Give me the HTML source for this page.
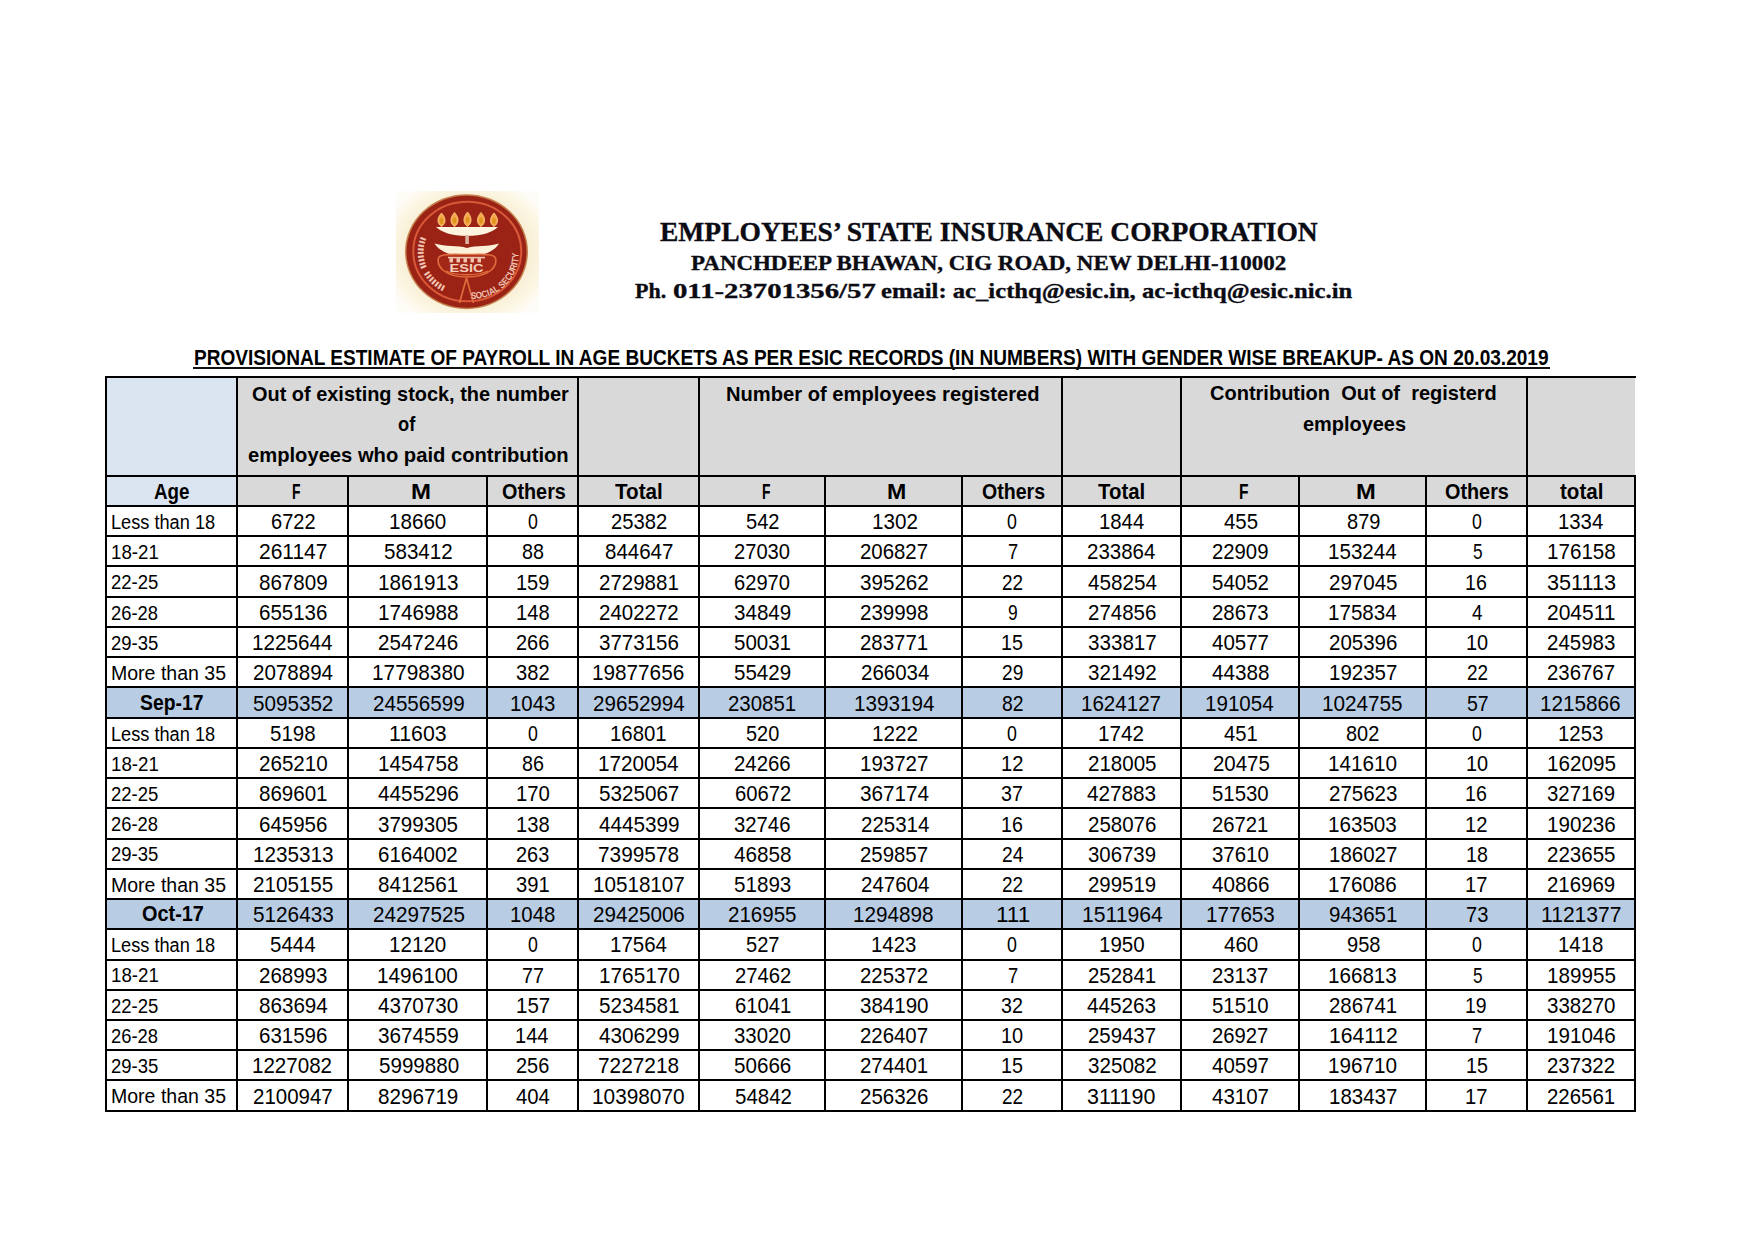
<!DOCTYPE html>
<html><head><meta charset="utf-8"><style>
html,body{margin:0;padding:0;background:#fff;}
body{width:1755px;height:1240px;position:relative;overflow:hidden;}
body>div{position:absolute;}
.t{white-space:pre;transform-origin:0 0;font-kerning:none;}
</style></head><body>
<svg style="position:absolute;left:385px;top:180px" width="165" height="145" viewBox="385 180 165 145">
<defs>
<radialGradient id="bg" cx="50%" cy="50%" r="62%"><stop offset="0.55" stop-color="#f6e9c8"/><stop offset="0.85" stop-color="#fbf5e2"/><stop offset="1" stop-color="#fefcf6"/></radialGradient>
<path id="arcR" d="M 471,299 A 47,44 0 0 0 515,238"/>
<path id="arcL" d="M 421,236 A 47,44 0 0 0 459,296"/>
</defs>
<rect x="396" y="191" width="143" height="122" rx="3" fill="url(#bg)"/>
<ellipse cx="466.5" cy="251.7" rx="61.5" ry="57.5" fill="#c4814e"/>
<ellipse cx="466.5" cy="251.7" rx="60" ry="56" fill="#9a2315"/>
<ellipse cx="467.3" cy="251.5" rx="54" ry="49.8" fill="none" stroke="#d9583a" stroke-width="2"/>
<g fill="#f5a94c" stroke="#fbc27c" stroke-width="0.9">
<path d="M441.5,213 C446,218 446.5,223 441.5,226.5 C436.5,223 437,218 441.5,213Z"/>
<path d="M454.5,212.5 C459,217.5 459.5,223 454.5,226.5 C449.5,223 450,217.5 454.5,212.5Z"/>
<path d="M467.5,212 C472,217 472.5,223 467.5,226.5 C462.5,223 463,217 467.5,212Z"/>
<path d="M481,212.5 C485.5,217.5 486,223 481,226.5 C476,223 476.5,217.5 481,212.5Z"/>
<path d="M494,213 C498.5,218 499,223 494,226.5 C489,223 489.5,218 494,213Z"/>
</g>
<g fill="#e0951e">
<ellipse cx="441.5" cy="221" rx="1.8" ry="3.2"/><ellipse cx="454.5" cy="220.5" rx="1.8" ry="3.2"/><ellipse cx="467.5" cy="220" rx="1.8" ry="3.2"/><ellipse cx="481" cy="220.5" rx="1.8" ry="3.2"/><ellipse cx="494" cy="221" rx="1.8" ry="3.2"/>
</g>
<!-- upper bowl -->
<path d="M436,227 L498,227 C493,232 482,236 467,236 C452,236 441,232 436,227Z" fill="#fcf4de"/>
<!-- center column -->
<rect x="465.3" y="235" width="3.6" height="9" fill="#dcb4a2"/>
<!-- lower crescent -->
<path d="M434.5,243.5 C446,247 457,245 467,248 C477,245 488,247 499,243.5 C494,252 482,256.5 467,256.5 C452,256.5 440,252 434.5,243.5Z" fill="#fcf2da"/>
<!-- ESIC oval -->
<path d="M438.5,258 C440.5,253.5 452,254.5 467,254.5 C482,254.5 493.5,253.5 495.5,258 C497.5,266 490,277 467,277 C444,277 436.5,266 438.5,258Z" fill="#a42818" stroke="#df6c3c" stroke-width="1.6"/>
<path d="M446,271 C455,276 479,276 488,271" fill="none" stroke="#df6c3c" stroke-width="1.3"/>
<g fill="#f2c5b0">
<rect x="448" y="256.8" width="37" height="1.6"/>
<rect x="449.5" y="258.2" width="3.5" height="4.2"/><rect x="456.5" y="258.2" width="3.5" height="4.2"/><rect x="463.5" y="258.2" width="3.5" height="4.2"/><rect x="470.5" y="258.2" width="3.5" height="4.2"/><rect x="477.5" y="258.2" width="3.5" height="4.2"/>
</g>
<text x="466.5" y="271.5" font-family="Liberation Sans" font-weight="bold" font-size="10.5" text-anchor="middle" fill="#f5d0bd" textLength="34" lengthAdjust="spacingAndGlyphs">ESIC</text>
<!-- stand -->
<path d="M466.5,278 L459.5,303 M466.5,278 L473.5,303" stroke="#df6c3c" stroke-width="1.7" fill="none"/>
<!-- side texts -->
<text font-family="Liberation Sans" font-weight="bold" font-size="9.5" fill="#f2c3b2"><textPath href="#arcR" textLength="74" lengthAdjust="spacingAndGlyphs">SOCIAL SECURITY</textPath></text>
<text font-family="Liberation Sans" font-weight="bold" font-size="8.5" fill="#f2c3b2"><textPath href="#arcL" textLength="66" lengthAdjust="spacingAndGlyphs">IIIIIIIII  IIIIIII</textPath></text>
</svg>

<div style="left:106.30px;top:377.30px;width:130.50px;height:128.70px;background:#dbe5f1"></div><div style="left:236.80px;top:377.30px;width:1397.80px;height:128.70px;background:#d9d9d9"></div><div style="left:106.30px;top:687.41px;width:1528.30px;height:30.24px;background:#b8cce4"></div><div style="left:106.30px;top:899.06px;width:1528.30px;height:30.23px;background:#b8cce4"></div><div style="left:105.30px;top:376.30px;width:1530.30px;height:2.00px;background:#000"></div><div style="left:105.30px;top:474.80px;width:1530.30px;height:2.00px;background:#000"></div><div style="left:105.30px;top:505.00px;width:1530.30px;height:2.00px;background:#000"></div><div style="left:105.30px;top:535.24px;width:1530.30px;height:2.00px;background:#000"></div><div style="left:105.30px;top:565.47px;width:1530.30px;height:2.00px;background:#000"></div><div style="left:105.30px;top:595.71px;width:1530.30px;height:2.00px;background:#000"></div><div style="left:105.30px;top:625.94px;width:1530.30px;height:2.00px;background:#000"></div><div style="left:105.30px;top:656.17px;width:1530.30px;height:2.00px;background:#000"></div><div style="left:105.30px;top:686.41px;width:1530.30px;height:2.00px;background:#000"></div><div style="left:105.30px;top:716.64px;width:1530.30px;height:2.00px;background:#000"></div><div style="left:105.30px;top:746.88px;width:1530.30px;height:2.00px;background:#000"></div><div style="left:105.30px;top:777.12px;width:1530.30px;height:2.00px;background:#000"></div><div style="left:105.30px;top:807.35px;width:1530.30px;height:2.00px;background:#000"></div><div style="left:105.30px;top:837.59px;width:1530.30px;height:2.00px;background:#000"></div><div style="left:105.30px;top:867.82px;width:1530.30px;height:2.00px;background:#000"></div><div style="left:105.30px;top:898.06px;width:1530.30px;height:2.00px;background:#000"></div><div style="left:105.30px;top:928.29px;width:1530.30px;height:2.00px;background:#000"></div><div style="left:105.30px;top:958.52px;width:1530.30px;height:2.00px;background:#000"></div><div style="left:105.30px;top:988.76px;width:1530.30px;height:2.00px;background:#000"></div><div style="left:105.30px;top:1019.00px;width:1530.30px;height:2.00px;background:#000"></div><div style="left:105.30px;top:1049.23px;width:1530.30px;height:2.00px;background:#000"></div><div style="left:105.30px;top:1079.47px;width:1530.30px;height:2.00px;background:#000"></div><div style="left:105.30px;top:1109.70px;width:1530.30px;height:2.00px;background:#000"></div><div style="left:105.30px;top:376.30px;width:2.00px;height:100.50px;background:#000"></div><div style="left:235.80px;top:376.30px;width:2.00px;height:100.50px;background:#000"></div><div style="left:576.80px;top:376.30px;width:2.00px;height:100.50px;background:#000"></div><div style="left:697.90px;top:376.30px;width:2.00px;height:100.50px;background:#000"></div><div style="left:1060.50px;top:376.30px;width:2.00px;height:100.50px;background:#000"></div><div style="left:1179.90px;top:376.30px;width:2.00px;height:100.50px;background:#000"></div><div style="left:1525.90px;top:376.30px;width:2.00px;height:100.50px;background:#000"></div><div style="left:105.30px;top:474.80px;width:2.00px;height:636.90px;background:#000"></div><div style="left:235.80px;top:474.80px;width:2.00px;height:636.90px;background:#000"></div><div style="left:346.90px;top:474.80px;width:2.00px;height:636.90px;background:#000"></div><div style="left:486.20px;top:474.80px;width:2.00px;height:636.90px;background:#000"></div><div style="left:576.80px;top:474.80px;width:2.00px;height:636.90px;background:#000"></div><div style="left:697.90px;top:474.80px;width:2.00px;height:636.90px;background:#000"></div><div style="left:824.10px;top:474.80px;width:2.00px;height:636.90px;background:#000"></div><div style="left:961.40px;top:474.80px;width:2.00px;height:636.90px;background:#000"></div><div style="left:1060.50px;top:474.80px;width:2.00px;height:636.90px;background:#000"></div><div style="left:1179.90px;top:474.80px;width:2.00px;height:636.90px;background:#000"></div><div style="left:1297.70px;top:474.80px;width:2.00px;height:636.90px;background:#000"></div><div style="left:1425.10px;top:474.80px;width:2.00px;height:636.90px;background:#000"></div><div style="left:1525.90px;top:474.80px;width:2.00px;height:636.90px;background:#000"></div><div style="left:1633.60px;top:474.80px;width:2.00px;height:636.90px;background:#000"></div><div class="t" style="left:110.71px;top:512.89px;font:normal 19.5px/19.5px 'Liberation Sans',sans-serif;transform:scaleX(0.9322);color:#000;">Less than 18</div><div class="t" style="left:270.54px;top:512.20px;font:normal 21.5px/21.5px 'Liberation Sans',sans-serif;transform:scaleX(0.9304);color:#000;">6722</div><div class="t" style="left:389.06px;top:512.20px;font:normal 21.5px/21.5px 'Liberation Sans',sans-serif;transform:scaleX(0.9589);color:#000;">18660</div><div class="t" style="left:528.46px;top:512.20px;font:normal 21.5px/21.5px 'Liberation Sans',sans-serif;transform:scaleX(0.8238);color:#000;">0</div><div class="t" style="left:611.16px;top:512.20px;font:normal 21.5px/21.5px 'Liberation Sans',sans-serif;transform:scaleX(0.9412);color:#000;">25382</div><div class="t" style="left:746.26px;top:512.20px;font:normal 21.5px/21.5px 'Liberation Sans',sans-serif;transform:scaleX(0.9332);color:#000;">542</div><div class="t" style="left:871.69px;top:512.20px;font:normal 21.5px/21.5px 'Liberation Sans',sans-serif;transform:scaleX(0.9595);color:#000;">1302</div><div class="t" style="left:1007.35px;top:512.20px;font:normal 21.5px/21.5px 'Liberation Sans',sans-serif;transform:scaleX(0.8238);color:#000;">0</div><div class="t" style="left:1098.61px;top:512.20px;font:normal 21.5px/21.5px 'Liberation Sans',sans-serif;transform:scaleX(0.9456);color:#000;">1844</div><div class="t" style="left:1223.77px;top:512.20px;font:normal 21.5px/21.5px 'Liberation Sans',sans-serif;transform:scaleX(0.9502);color:#000;">455</div><div class="t" style="left:1346.85px;top:512.20px;font:normal 21.5px/21.5px 'Liberation Sans',sans-serif;transform:scaleX(0.9324);color:#000;">879</div><div class="t" style="left:1472.46px;top:512.20px;font:normal 21.5px/21.5px 'Liberation Sans',sans-serif;transform:scaleX(0.8238);color:#000;">0</div><div class="t" style="left:1557.83px;top:512.20px;font:normal 21.5px/21.5px 'Liberation Sans',sans-serif;transform:scaleX(0.9456);color:#000;">1334</div><div class="t" style="left:110.77px;top:543.13px;font:normal 19.5px/19.5px 'Liberation Sans',sans-serif;transform:scaleX(0.9579);color:#000;">18-21</div><div class="t" style="left:258.80px;top:542.44px;font:normal 21.5px/21.5px 'Liberation Sans',sans-serif;transform:scaleX(0.9757);color:#000;">261147</div><div class="t" style="left:384.38px;top:542.44px;font:normal 21.5px/21.5px 'Liberation Sans',sans-serif;transform:scaleX(0.9568);color:#000;">583412</div><div class="t" style="left:522.40px;top:542.44px;font:normal 21.5px/21.5px 'Liberation Sans',sans-serif;transform:scaleX(0.9183);color:#000;">88</div><div class="t" style="left:604.66px;top:542.44px;font:normal 21.5px/21.5px 'Liberation Sans',sans-serif;transform:scaleX(0.9538);color:#000;">844647</div><div class="t" style="left:734.29px;top:542.44px;font:normal 21.5px/21.5px 'Liberation Sans',sans-serif;transform:scaleX(0.9363);color:#000;">27030</div><div class="t" style="left:860.39px;top:542.44px;font:normal 21.5px/21.5px 'Liberation Sans',sans-serif;transform:scaleX(0.9478);color:#000;">206827</div><div class="t" style="left:1008.14px;top:542.44px;font:normal 21.5px/21.5px 'Liberation Sans',sans-serif;transform:scaleX(0.8502);color:#000;">7</div><div class="t" style="left:1087.33px;top:542.44px;font:normal 21.5px/21.5px 'Liberation Sans',sans-serif;transform:scaleX(0.9523);color:#000;">233864</div><div class="t" style="left:1211.83px;top:542.44px;font:normal 21.5px/21.5px 'Liberation Sans',sans-serif;transform:scaleX(0.9442);color:#000;">22909</div><div class="t" style="left:1327.68px;top:542.44px;font:normal 21.5px/21.5px 'Liberation Sans',sans-serif;transform:scaleX(0.9572);color:#000;">153244</div><div class="t" style="left:1472.59px;top:542.44px;font:normal 21.5px/21.5px 'Liberation Sans',sans-serif;transform:scaleX(0.8038);color:#000;">5</div><div class="t" style="left:1546.68px;top:542.44px;font:normal 21.5px/21.5px 'Liberation Sans',sans-serif;transform:scaleX(0.9587);color:#000;">176158</div><div class="t" style="left:111.04px;top:573.36px;font:normal 19.5px/19.5px 'Liberation Sans',sans-serif;transform:scaleX(0.9496);color:#000;">22-25</div><div class="t" style="left:258.53px;top:572.67px;font:normal 21.5px/21.5px 'Liberation Sans',sans-serif;transform:scaleX(0.9564);color:#000;">867809</div><div class="t" style="left:377.53px;top:572.67px;font:normal 21.5px/21.5px 'Liberation Sans',sans-serif;transform:scaleX(0.9614);color:#000;">1861913</div><div class="t" style="left:515.94px;top:572.67px;font:normal 21.5px/21.5px 'Liberation Sans',sans-serif;transform:scaleX(0.9295);color:#000;">159</div><div class="t" style="left:599.37px;top:572.67px;font:normal 21.5px/21.5px 'Liberation Sans',sans-serif;transform:scaleX(0.9534);color:#000;">2729881</div><div class="t" style="left:734.30px;top:572.67px;font:normal 21.5px/21.5px 'Liberation Sans',sans-serif;transform:scaleX(0.9358);color:#000;">62970</div><div class="t" style="left:860.13px;top:572.67px;font:normal 21.5px/21.5px 'Liberation Sans',sans-serif;transform:scaleX(0.9585);color:#000;">395262</div><div class="t" style="left:1001.66px;top:572.67px;font:normal 21.5px/21.5px 'Liberation Sans',sans-serif;transform:scaleX(0.8820);color:#000;">22</div><div class="t" style="left:1087.75px;top:572.67px;font:normal 21.5px/21.5px 'Liberation Sans',sans-serif;transform:scaleX(0.9624);color:#000;">458254</div><div class="t" style="left:1211.73px;top:572.67px;font:normal 21.5px/21.5px 'Liberation Sans',sans-serif;transform:scaleX(0.9520);color:#000;">54052</div><div class="t" style="left:1328.65px;top:572.67px;font:normal 21.5px/21.5px 'Liberation Sans',sans-serif;transform:scaleX(0.9551);color:#000;">297045</div><div class="t" style="left:1465.19px;top:572.67px;font:normal 21.5px/21.5px 'Liberation Sans',sans-serif;transform:scaleX(0.9111);color:#000;">16</div><div class="t" style="left:1546.88px;top:572.67px;font:normal 21.5px/21.5px 'Liberation Sans',sans-serif;transform:scaleX(1.0073);color:#000;">351113</div><div class="t" style="left:111.03px;top:603.60px;font:normal 19.5px/19.5px 'Liberation Sans',sans-serif;transform:scaleX(0.9424);color:#000;">26-28</div><div class="t" style="left:258.55px;top:602.91px;font:normal 21.5px/21.5px 'Liberation Sans',sans-serif;transform:scaleX(0.9529);color:#000;">655136</div><div class="t" style="left:377.51px;top:602.91px;font:normal 21.5px/21.5px 'Liberation Sans',sans-serif;transform:scaleX(0.9618);color:#000;">1746988</div><div class="t" style="left:515.77px;top:602.91px;font:normal 21.5px/21.5px 'Liberation Sans',sans-serif;transform:scaleX(0.9365);color:#000;">148</div><div class="t" style="left:599.44px;top:602.91px;font:normal 21.5px/21.5px 'Liberation Sans',sans-serif;transform:scaleX(0.9523);color:#000;">2402272</div><div class="t" style="left:734.40px;top:602.91px;font:normal 21.5px/21.5px 'Liberation Sans',sans-serif;transform:scaleX(0.9572);color:#000;">34849</div><div class="t" style="left:860.11px;top:602.91px;font:normal 21.5px/21.5px 'Liberation Sans',sans-serif;transform:scaleX(0.9538);color:#000;">239998</div><div class="t" style="left:1007.83px;top:602.91px;font:normal 21.5px/21.5px 'Liberation Sans',sans-serif;transform:scaleX(0.8109);color:#000;">9</div><div class="t" style="left:1087.94px;top:602.91px;font:normal 21.5px/21.5px 'Liberation Sans',sans-serif;transform:scaleX(0.9534);color:#000;">274856</div><div class="t" style="left:1211.68px;top:602.91px;font:normal 21.5px/21.5px 'Liberation Sans',sans-serif;transform:scaleX(0.9479);color:#000;">28673</div><div class="t" style="left:1327.68px;top:602.91px;font:normal 21.5px/21.5px 'Liberation Sans',sans-serif;transform:scaleX(0.9572);color:#000;">175834</div><div class="t" style="left:1471.72px;top:602.91px;font:normal 21.5px/21.5px 'Liberation Sans',sans-serif;transform:scaleX(0.8773);color:#000;">4</div><div class="t" style="left:1547.34px;top:602.91px;font:normal 21.5px/21.5px 'Liberation Sans',sans-serif;transform:scaleX(0.9770);color:#000;">204511</div><div class="t" style="left:111.04px;top:633.83px;font:normal 19.5px/19.5px 'Liberation Sans',sans-serif;transform:scaleX(0.9496);color:#000;">29-35</div><div class="t" style="left:252.12px;top:633.14px;font:normal 21.5px/21.5px 'Liberation Sans',sans-serif;transform:scaleX(0.9606);color:#000;">1225644</div><div class="t" style="left:377.97px;top:633.14px;font:normal 21.5px/21.5px 'Liberation Sans',sans-serif;transform:scaleX(0.9571);color:#000;">2547246</div><div class="t" style="left:516.24px;top:633.14px;font:normal 21.5px/21.5px 'Liberation Sans',sans-serif;transform:scaleX(0.9263);color:#000;">266</div><div class="t" style="left:598.91px;top:633.14px;font:normal 21.5px/21.5px 'Liberation Sans',sans-serif;transform:scaleX(0.9544);color:#000;">3773156</div><div class="t" style="left:734.48px;top:633.14px;font:normal 21.5px/21.5px 'Liberation Sans',sans-serif;transform:scaleX(0.9536);color:#000;">50031</div><div class="t" style="left:860.33px;top:633.14px;font:normal 21.5px/21.5px 'Liberation Sans',sans-serif;transform:scaleX(0.9491);color:#000;">283771</div><div class="t" style="left:1000.93px;top:633.14px;font:normal 21.5px/21.5px 'Liberation Sans',sans-serif;transform:scaleX(0.9165);color:#000;">15</div><div class="t" style="left:1087.95px;top:633.14px;font:normal 21.5px/21.5px 'Liberation Sans',sans-serif;transform:scaleX(0.9585);color:#000;">333817</div><div class="t" style="left:1212.38px;top:633.14px;font:normal 21.5px/21.5px 'Liberation Sans',sans-serif;transform:scaleX(0.9532);color:#000;">40577</div><div class="t" style="left:1328.74px;top:633.14px;font:normal 21.5px/21.5px 'Liberation Sans',sans-serif;transform:scaleX(0.9534);color:#000;">205396</div><div class="t" style="left:1465.97px;top:633.14px;font:normal 21.5px/21.5px 'Liberation Sans',sans-serif;transform:scaleX(0.9247);color:#000;">10</div><div class="t" style="left:1547.13px;top:633.14px;font:normal 21.5px/21.5px 'Liberation Sans',sans-serif;transform:scaleX(0.9534);color:#000;">245983</div><div class="t" style="left:110.60px;top:664.07px;font:normal 19.5px/19.5px 'Liberation Sans',sans-serif;transform:scaleX(1.0011);color:#000;">More than 35</div><div class="t" style="left:252.56px;top:663.38px;font:normal 21.5px/21.5px 'Liberation Sans',sans-serif;transform:scaleX(0.9564);color:#000;">2078894</div><div class="t" style="left:371.97px;top:663.38px;font:normal 21.5px/21.5px 'Liberation Sans',sans-serif;transform:scaleX(0.9672);color:#000;">17798380</div><div class="t" style="left:516.24px;top:663.38px;font:normal 21.5px/21.5px 'Liberation Sans',sans-serif;transform:scaleX(0.9367);color:#000;">382</div><div class="t" style="left:592.37px;top:663.38px;font:normal 21.5px/21.5px 'Liberation Sans',sans-serif;transform:scaleX(0.9638);color:#000;">19877656</div><div class="t" style="left:734.41px;top:663.38px;font:normal 21.5px/21.5px 'Liberation Sans',sans-serif;transform:scaleX(0.9551);color:#000;">55429</div><div class="t" style="left:860.51px;top:663.38px;font:normal 21.5px/21.5px 'Liberation Sans',sans-serif;transform:scaleX(0.9523);color:#000;">266034</div><div class="t" style="left:1001.54px;top:663.38px;font:normal 21.5px/21.5px 'Liberation Sans',sans-serif;transform:scaleX(0.8897);color:#000;">29</div><div class="t" style="left:1087.95px;top:663.38px;font:normal 21.5px/21.5px 'Liberation Sans',sans-serif;transform:scaleX(0.9585);color:#000;">321492</div><div class="t" style="left:1212.09px;top:663.38px;font:normal 21.5px/21.5px 'Liberation Sans',sans-serif;transform:scaleX(0.9605);color:#000;">44388</div><div class="t" style="left:1328.57px;top:663.38px;font:normal 21.5px/21.5px 'Liberation Sans',sans-serif;transform:scaleX(0.9526);color:#000;">192357</div><div class="t" style="left:1466.80px;top:663.38px;font:normal 21.5px/21.5px 'Liberation Sans',sans-serif;transform:scaleX(0.8820);color:#000;">22</div><div class="t" style="left:1547.39px;top:663.38px;font:normal 21.5px/21.5px 'Liberation Sans',sans-serif;transform:scaleX(0.9478);color:#000;">236767</div><div class="t" style="left:140.23px;top:691.69px;font:bold 22.0px/22.0px 'Liberation Sans',sans-serif;transform:scaleX(0.8791);color:#000;">Sep-17</div><div class="t" style="left:253.22px;top:693.61px;font:normal 21.5px/21.5px 'Liberation Sans',sans-serif;transform:scaleX(0.9600);color:#000;">5095352</div><div class="t" style="left:372.75px;top:693.61px;font:normal 21.5px/21.5px 'Liberation Sans',sans-serif;transform:scaleX(0.9578);color:#000;">24556599</div><div class="t" style="left:510.42px;top:693.61px;font:normal 21.5px/21.5px 'Liberation Sans',sans-serif;transform:scaleX(0.9467);color:#000;">1043</div><div class="t" style="left:593.20px;top:693.61px;font:normal 21.5px/21.5px 'Liberation Sans',sans-serif;transform:scaleX(0.9593);color:#000;">29652994</div><div class="t" style="left:728.35px;top:693.61px;font:normal 21.5px/21.5px 'Liberation Sans',sans-serif;transform:scaleX(0.9491);color:#000;">230851</div><div class="t" style="left:853.71px;top:693.61px;font:normal 21.5px/21.5px 'Liberation Sans',sans-serif;transform:scaleX(0.9606);color:#000;">1393194</div><div class="t" style="left:1001.51px;top:693.61px;font:normal 21.5px/21.5px 'Liberation Sans',sans-serif;transform:scaleX(0.9000);color:#000;">82</div><div class="t" style="left:1081.41px;top:693.61px;font:normal 21.5px/21.5px 'Liberation Sans',sans-serif;transform:scaleX(0.9565);color:#000;">1624127</div><div class="t" style="left:1205.28px;top:693.61px;font:normal 21.5px/21.5px 'Liberation Sans',sans-serif;transform:scaleX(0.9572);color:#000;">191054</div><div class="t" style="left:1321.85px;top:693.61px;font:normal 21.5px/21.5px 'Liberation Sans',sans-serif;transform:scaleX(0.9630);color:#000;">1024755</div><div class="t" style="left:1466.67px;top:693.61px;font:normal 21.5px/21.5px 'Liberation Sans',sans-serif;transform:scaleX(0.9091);color:#000;">57</div><div class="t" style="left:1540.33px;top:693.61px;font:normal 21.5px/21.5px 'Liberation Sans',sans-serif;transform:scaleX(0.9614);color:#000;">1215866</div><div class="t" style="left:110.71px;top:724.54px;font:normal 19.5px/19.5px 'Liberation Sans',sans-serif;transform:scaleX(0.9322);color:#000;">Less than 18</div><div class="t" style="left:270.03px;top:723.85px;font:normal 21.5px/21.5px 'Liberation Sans',sans-serif;transform:scaleX(0.9537);color:#000;">5198</div><div class="t" style="left:389.22px;top:723.85px;font:normal 21.5px/21.5px 'Liberation Sans',sans-serif;transform:scaleX(0.9883);color:#000;">11603</div><div class="t" style="left:528.46px;top:723.85px;font:normal 21.5px/21.5px 'Liberation Sans',sans-serif;transform:scaleX(0.8238);color:#000;">0</div><div class="t" style="left:609.67px;top:723.85px;font:normal 21.5px/21.5px 'Liberation Sans',sans-serif;transform:scaleX(0.9484);color:#000;">16801</div><div class="t" style="left:745.80px;top:723.85px;font:normal 21.5px/21.5px 'Liberation Sans',sans-serif;transform:scaleX(0.9253);color:#000;">520</div><div class="t" style="left:871.69px;top:723.85px;font:normal 21.5px/21.5px 'Liberation Sans',sans-serif;transform:scaleX(0.9595);color:#000;">1222</div><div class="t" style="left:1007.35px;top:723.85px;font:normal 21.5px/21.5px 'Liberation Sans',sans-serif;transform:scaleX(0.8238);color:#000;">0</div><div class="t" style="left:1098.48px;top:723.85px;font:normal 21.5px/21.5px 'Liberation Sans',sans-serif;transform:scaleX(0.9595);color:#000;">1742</div><div class="t" style="left:1224.03px;top:723.85px;font:normal 21.5px/21.5px 'Liberation Sans',sans-serif;transform:scaleX(0.9381);color:#000;">451</div><div class="t" style="left:1345.96px;top:723.85px;font:normal 21.5px/21.5px 'Liberation Sans',sans-serif;transform:scaleX(0.9272);color:#000;">802</div><div class="t" style="left:1472.46px;top:723.85px;font:normal 21.5px/21.5px 'Liberation Sans',sans-serif;transform:scaleX(0.8238);color:#000;">0</div><div class="t" style="left:1558.44px;top:723.85px;font:normal 21.5px/21.5px 'Liberation Sans',sans-serif;transform:scaleX(0.9467);color:#000;">1253</div><div class="t" style="left:110.77px;top:754.77px;font:normal 19.5px/19.5px 'Liberation Sans',sans-serif;transform:scaleX(0.9579);color:#000;">18-21</div><div class="t" style="left:259.33px;top:754.08px;font:normal 21.5px/21.5px 'Liberation Sans',sans-serif;transform:scaleX(0.9577);color:#000;">265210</div><div class="t" style="left:377.51px;top:754.08px;font:normal 21.5px/21.5px 'Liberation Sans',sans-serif;transform:scaleX(0.9618);color:#000;">1454758</div><div class="t" style="left:522.42px;top:754.08px;font:normal 21.5px/21.5px 'Liberation Sans',sans-serif;transform:scaleX(0.9169);color:#000;">86</div><div class="t" style="left:598.12px;top:754.08px;font:normal 21.5px/21.5px 'Liberation Sans',sans-serif;transform:scaleX(0.9606);color:#000;">1720054</div><div class="t" style="left:734.49px;top:754.08px;font:normal 21.5px/21.5px 'Liberation Sans',sans-serif;transform:scaleX(0.9479);color:#000;">24266</div><div class="t" style="left:859.96px;top:754.08px;font:normal 21.5px/21.5px 'Liberation Sans',sans-serif;transform:scaleX(0.9526);color:#000;">193727</div><div class="t" style="left:1001.26px;top:754.08px;font:normal 21.5px/21.5px 'Liberation Sans',sans-serif;transform:scaleX(0.9384);color:#000;">12</div><div class="t" style="left:1087.86px;top:754.08px;font:normal 21.5px/21.5px 'Liberation Sans',sans-serif;transform:scaleX(0.9551);color:#000;">218005</div><div class="t" style="left:1212.61px;top:754.08px;font:normal 21.5px/21.5px 'Liberation Sans',sans-serif;transform:scaleX(0.9499);color:#000;">20475</div><div class="t" style="left:1328.10px;top:754.08px;font:normal 21.5px/21.5px 'Liberation Sans',sans-serif;transform:scaleX(0.9627);color:#000;">141610</div><div class="t" style="left:1465.97px;top:754.08px;font:normal 21.5px/21.5px 'Liberation Sans',sans-serif;transform:scaleX(0.9247);color:#000;">10</div><div class="t" style="left:1546.62px;top:754.08px;font:normal 21.5px/21.5px 'Liberation Sans',sans-serif;transform:scaleX(0.9600);color:#000;">162095</div><div class="t" style="left:111.04px;top:785.01px;font:normal 19.5px/19.5px 'Liberation Sans',sans-serif;transform:scaleX(0.9496);color:#000;">22-25</div><div class="t" style="left:258.60px;top:784.32px;font:normal 21.5px/21.5px 'Liberation Sans',sans-serif;transform:scaleX(0.9551);color:#000;">869601</div><div class="t" style="left:378.39px;top:784.32px;font:normal 21.5px/21.5px 'Liberation Sans',sans-serif;transform:scaleX(0.9658);color:#000;">4455296</div><div class="t" style="left:515.58px;top:784.32px;font:normal 21.5px/21.5px 'Liberation Sans',sans-serif;transform:scaleX(0.9445);color:#000;">170</div><div class="t" style="left:599.22px;top:784.32px;font:normal 21.5px/21.5px 'Liberation Sans',sans-serif;transform:scaleX(0.9600);color:#000;">5325067</div><div class="t" style="left:734.76px;top:784.32px;font:normal 21.5px/21.5px 'Liberation Sans',sans-serif;transform:scaleX(0.9406);color:#000;">60672</div><div class="t" style="left:860.26px;top:784.32px;font:normal 21.5px/21.5px 'Liberation Sans',sans-serif;transform:scaleX(0.9631);color:#000;">367174</div><div class="t" style="left:1001.38px;top:784.32px;font:normal 21.5px/21.5px 'Liberation Sans',sans-serif;transform:scaleX(0.9143);color:#000;">37</div><div class="t" style="left:1087.36px;top:784.32px;font:normal 21.5px/21.5px 'Liberation Sans',sans-serif;transform:scaleX(0.9635);color:#000;">427883</div><div class="t" style="left:1212.27px;top:784.32px;font:normal 21.5px/21.5px 'Liberation Sans',sans-serif;transform:scaleX(0.9471);color:#000;">51530</div><div class="t" style="left:1328.74px;top:784.32px;font:normal 21.5px/21.5px 'Liberation Sans',sans-serif;transform:scaleX(0.9534);color:#000;">275623</div><div class="t" style="left:1465.19px;top:784.32px;font:normal 21.5px/21.5px 'Liberation Sans',sans-serif;transform:scaleX(0.9111);color:#000;">16</div><div class="t" style="left:1547.01px;top:784.32px;font:normal 21.5px/21.5px 'Liberation Sans',sans-serif;transform:scaleX(0.9472);color:#000;">327169</div><div class="t" style="left:111.03px;top:815.24px;font:normal 19.5px/19.5px 'Liberation Sans',sans-serif;transform:scaleX(0.9424);color:#000;">26-28</div><div class="t" style="left:258.55px;top:814.55px;font:normal 21.5px/21.5px 'Liberation Sans',sans-serif;transform:scaleX(0.9529);color:#000;">645956</div><div class="t" style="left:377.63px;top:814.55px;font:normal 21.5px/21.5px 'Liberation Sans',sans-serif;transform:scaleX(0.9560);color:#000;">3799305</div><div class="t" style="left:515.77px;top:814.55px;font:normal 21.5px/21.5px 'Liberation Sans',sans-serif;transform:scaleX(0.9365);color:#000;">138</div><div class="t" style="left:598.74px;top:814.55px;font:normal 21.5px/21.5px 'Liberation Sans',sans-serif;transform:scaleX(0.9632);color:#000;">4445399</div><div class="t" style="left:734.23px;top:814.55px;font:normal 21.5px/21.5px 'Liberation Sans',sans-serif;transform:scaleX(0.9440);color:#000;">32746</div><div class="t" style="left:860.51px;top:814.55px;font:normal 21.5px/21.5px 'Liberation Sans',sans-serif;transform:scaleX(0.9523);color:#000;">225314</div><div class="t" style="left:1001.02px;top:814.55px;font:normal 21.5px/21.5px 'Liberation Sans',sans-serif;transform:scaleX(0.9111);color:#000;">16</div><div class="t" style="left:1087.94px;top:814.55px;font:normal 21.5px/21.5px 'Liberation Sans',sans-serif;transform:scaleX(0.9534);color:#000;">258076</div><div class="t" style="left:1211.90px;top:814.55px;font:normal 21.5px/21.5px 'Liberation Sans',sans-serif;transform:scaleX(0.9427);color:#000;">26721</div><div class="t" style="left:1328.30px;top:814.55px;font:normal 21.5px/21.5px 'Liberation Sans',sans-serif;transform:scaleX(0.9583);color:#000;">163503</div><div class="t" style="left:1465.41px;top:814.55px;font:normal 21.5px/21.5px 'Liberation Sans',sans-serif;transform:scaleX(0.9384);color:#000;">12</div><div class="t" style="left:1546.70px;top:814.55px;font:normal 21.5px/21.5px 'Liberation Sans',sans-serif;transform:scaleX(0.9583);color:#000;">190236</div><div class="t" style="left:111.04px;top:845.48px;font:normal 19.5px/19.5px 'Liberation Sans',sans-serif;transform:scaleX(0.9496);color:#000;">29-35</div><div class="t" style="left:252.73px;top:844.79px;font:normal 21.5px/21.5px 'Liberation Sans',sans-serif;transform:scaleX(0.9614);color:#000;">1235313</div><div class="t" style="left:378.25px;top:844.79px;font:normal 21.5px/21.5px 'Liberation Sans',sans-serif;transform:scaleX(0.9519);color:#000;">6164002</div><div class="t" style="left:516.24px;top:844.79px;font:normal 21.5px/21.5px 'Liberation Sans',sans-serif;transform:scaleX(0.9263);color:#000;">263</div><div class="t" style="left:598.18px;top:844.79px;font:normal 21.5px/21.5px 'Liberation Sans',sans-serif;transform:scaleX(0.9687);color:#000;">7399578</div><div class="t" style="left:733.91px;top:844.79px;font:normal 21.5px/21.5px 'Liberation Sans',sans-serif;transform:scaleX(0.9605);color:#000;">46858</div><div class="t" style="left:860.39px;top:844.79px;font:normal 21.5px/21.5px 'Liberation Sans',sans-serif;transform:scaleX(0.9478);color:#000;">259857</div><div class="t" style="left:1001.78px;top:844.79px;font:normal 21.5px/21.5px 'Liberation Sans',sans-serif;transform:scaleX(0.8954);color:#000;">24</div><div class="t" style="left:1087.82px;top:844.79px;font:normal 21.5px/21.5px 'Liberation Sans',sans-serif;transform:scaleX(0.9472);color:#000;">306739</div><div class="t" style="left:1212.23px;top:844.79px;font:normal 21.5px/21.5px 'Liberation Sans',sans-serif;transform:scaleX(0.9491);color:#000;">37610</div><div class="t" style="left:1328.57px;top:844.79px;font:normal 21.5px/21.5px 'Liberation Sans',sans-serif;transform:scaleX(0.9526);color:#000;">186027</div><div class="t" style="left:1466.16px;top:844.79px;font:normal 21.5px/21.5px 'Liberation Sans',sans-serif;transform:scaleX(0.9125);color:#000;">18</div><div class="t" style="left:1547.05px;top:844.79px;font:normal 21.5px/21.5px 'Liberation Sans',sans-serif;transform:scaleX(0.9551);color:#000;">223655</div><div class="t" style="left:110.60px;top:875.71px;font:normal 19.5px/19.5px 'Liberation Sans',sans-serif;transform:scaleX(1.0011);color:#000;">More than 35</div><div class="t" style="left:253.09px;top:875.02px;font:normal 21.5px/21.5px 'Liberation Sans',sans-serif;transform:scaleX(0.9589);color:#000;">2105155</div><div class="t" style="left:378.03px;top:875.02px;font:normal 21.5px/21.5px 'Liberation Sans',sans-serif;transform:scaleX(0.9586);color:#000;">8412561</div><div class="t" style="left:516.18px;top:875.02px;font:normal 21.5px/21.5px 'Liberation Sans',sans-serif;transform:scaleX(0.9393);color:#000;">391</div><div class="t" style="left:592.64px;top:875.02px;font:normal 21.5px/21.5px 'Liberation Sans',sans-serif;transform:scaleX(0.9596);color:#000;">10518107</div><div class="t" style="left:734.27px;top:875.02px;font:normal 21.5px/21.5px 'Liberation Sans',sans-serif;transform:scaleX(0.9588);color:#000;">51893</div><div class="t" style="left:860.51px;top:875.02px;font:normal 21.5px/21.5px 'Liberation Sans',sans-serif;transform:scaleX(0.9523);color:#000;">247604</div><div class="t" style="left:1001.66px;top:875.02px;font:normal 21.5px/21.5px 'Liberation Sans',sans-serif;transform:scaleX(0.8820);color:#000;">22</div><div class="t" style="left:1088.08px;top:875.02px;font:normal 21.5px/21.5px 'Liberation Sans',sans-serif;transform:scaleX(0.9504);color:#000;">299519</div><div class="t" style="left:1212.11px;top:875.02px;font:normal 21.5px/21.5px 'Liberation Sans',sans-serif;transform:scaleX(0.9600);color:#000;">40866</div><div class="t" style="left:1328.31px;top:875.02px;font:normal 21.5px/21.5px 'Liberation Sans',sans-serif;transform:scaleX(0.9583);color:#000;">176086</div><div class="t" style="left:1465.41px;top:875.02px;font:normal 21.5px/21.5px 'Liberation Sans',sans-serif;transform:scaleX(0.9384);color:#000;">17</div><div class="t" style="left:1547.27px;top:875.02px;font:normal 21.5px/21.5px 'Liberation Sans',sans-serif;transform:scaleX(0.9504);color:#000;">216969</div><div class="t" style="left:141.76px;top:903.33px;font:bold 22.0px/22.0px 'Liberation Sans',sans-serif;transform:scaleX(0.9044);color:#000;">Oct-17</div><div class="t" style="left:252.95px;top:905.26px;font:normal 21.5px/21.5px 'Liberation Sans',sans-serif;transform:scaleX(0.9650);color:#000;">5126433</div><div class="t" style="left:372.53px;top:905.26px;font:normal 21.5px/21.5px 'Liberation Sans',sans-serif;transform:scaleX(0.9614);color:#000;">24297525</div><div class="t" style="left:510.40px;top:905.26px;font:normal 21.5px/21.5px 'Liberation Sans',sans-serif;transform:scaleX(0.9474);color:#000;">1048</div><div class="t" style="left:592.80px;top:905.26px;font:normal 21.5px/21.5px 'Liberation Sans',sans-serif;transform:scaleX(0.9601);color:#000;">29425006</div><div class="t" style="left:728.04px;top:905.26px;font:normal 21.5px/21.5px 'Liberation Sans',sans-serif;transform:scaleX(0.9551);color:#000;">216955</div><div class="t" style="left:853.31px;top:905.26px;font:normal 21.5px/21.5px 'Liberation Sans',sans-serif;transform:scaleX(0.9618);color:#000;">1294898</div><div class="t" style="left:995.69px;top:905.26px;font:normal 21.5px/21.5px 'Liberation Sans',sans-serif;transform:scaleX(1.0483);color:#000;">111</div><div class="t" style="left:1081.50px;top:905.26px;font:normal 21.5px/21.5px 'Liberation Sans',sans-serif;transform:scaleX(0.9849);color:#000;">1511964</div><div class="t" style="left:1205.89px;top:905.26px;font:normal 21.5px/21.5px 'Liberation Sans',sans-serif;transform:scaleX(0.9583);color:#000;">177653</div><div class="t" style="left:1328.87px;top:905.26px;font:normal 21.5px/21.5px 'Liberation Sans',sans-serif;transform:scaleX(0.9521);color:#000;">943651</div><div class="t" style="left:1465.62px;top:905.26px;font:normal 21.5px/21.5px 'Liberation Sans',sans-serif;transform:scaleX(0.9369);color:#000;">73</div><div class="t" style="left:1540.58px;top:905.26px;font:normal 21.5px/21.5px 'Liberation Sans',sans-serif;transform:scaleX(0.9809);color:#000;">1121377</div><div class="t" style="left:110.71px;top:936.18px;font:normal 19.5px/19.5px 'Liberation Sans',sans-serif;transform:scaleX(0.9322);color:#000;">Less than 18</div><div class="t" style="left:270.41px;top:935.49px;font:normal 21.5px/21.5px 'Liberation Sans',sans-serif;transform:scaleX(0.9520);color:#000;">5444</div><div class="t" style="left:389.06px;top:935.49px;font:normal 21.5px/21.5px 'Liberation Sans',sans-serif;transform:scaleX(0.9589);color:#000;">12120</div><div class="t" style="left:528.46px;top:935.49px;font:normal 21.5px/21.5px 'Liberation Sans',sans-serif;transform:scaleX(0.8238);color:#000;">0</div><div class="t" style="left:609.84px;top:935.49px;font:normal 21.5px/21.5px 'Liberation Sans',sans-serif;transform:scaleX(0.9524);color:#000;">17564</div><div class="t" style="left:746.26px;top:935.49px;font:normal 21.5px/21.5px 'Liberation Sans',sans-serif;transform:scaleX(0.9332);color:#000;">527</div><div class="t" style="left:871.44px;top:935.49px;font:normal 21.5px/21.5px 'Liberation Sans',sans-serif;transform:scaleX(0.9467);color:#000;">1423</div><div class="t" style="left:1007.35px;top:935.49px;font:normal 21.5px/21.5px 'Liberation Sans',sans-serif;transform:scaleX(0.8238);color:#000;">0</div><div class="t" style="left:1099.02px;top:935.49px;font:normal 21.5px/21.5px 'Liberation Sans',sans-serif;transform:scaleX(0.9538);color:#000;">1950</div><div class="t" style="left:1223.64px;top:935.49px;font:normal 21.5px/21.5px 'Liberation Sans',sans-serif;transform:scaleX(0.9554);color:#000;">460</div><div class="t" style="left:1346.70px;top:935.49px;font:normal 21.5px/21.5px 'Liberation Sans',sans-serif;transform:scaleX(0.9332);color:#000;">958</div><div class="t" style="left:1472.46px;top:935.49px;font:normal 21.5px/21.5px 'Liberation Sans',sans-serif;transform:scaleX(0.8238);color:#000;">0</div><div class="t" style="left:1558.42px;top:935.49px;font:normal 21.5px/21.5px 'Liberation Sans',sans-serif;transform:scaleX(0.9474);color:#000;">1418</div><div class="t" style="left:110.77px;top:966.42px;font:normal 19.5px/19.5px 'Liberation Sans',sans-serif;transform:scaleX(0.9579);color:#000;">18-21</div><div class="t" style="left:258.54px;top:965.73px;font:normal 21.5px/21.5px 'Liberation Sans',sans-serif;transform:scaleX(0.9534);color:#000;">268993</div><div class="t" style="left:377.33px;top:965.73px;font:normal 21.5px/21.5px 'Liberation Sans',sans-serif;transform:scaleX(0.9653);color:#000;">1496100</div><div class="t" style="left:521.90px;top:965.73px;font:normal 21.5px/21.5px 'Liberation Sans',sans-serif;transform:scaleX(0.9194);color:#000;">77</div><div class="t" style="left:598.53px;top:965.73px;font:normal 21.5px/21.5px 'Liberation Sans',sans-serif;transform:scaleX(0.9653);color:#000;">1765170</div><div class="t" style="left:734.75px;top:965.73px;font:normal 21.5px/21.5px 'Liberation Sans',sans-serif;transform:scaleX(0.9412);color:#000;">27462</div><div class="t" style="left:860.39px;top:965.73px;font:normal 21.5px/21.5px 'Liberation Sans',sans-serif;transform:scaleX(0.9478);color:#000;">225372</div><div class="t" style="left:1008.14px;top:965.73px;font:normal 21.5px/21.5px 'Liberation Sans',sans-serif;transform:scaleX(0.8502);color:#000;">7</div><div class="t" style="left:1088.15px;top:965.73px;font:normal 21.5px/21.5px 'Liberation Sans',sans-serif;transform:scaleX(0.9491);color:#000;">252841</div><div class="t" style="left:1211.96px;top:965.73px;font:normal 21.5px/21.5px 'Liberation Sans',sans-serif;transform:scaleX(0.9412);color:#000;">23137</div><div class="t" style="left:1328.30px;top:965.73px;font:normal 21.5px/21.5px 'Liberation Sans',sans-serif;transform:scaleX(0.9583);color:#000;">166813</div><div class="t" style="left:1472.59px;top:965.73px;font:normal 21.5px/21.5px 'Liberation Sans',sans-serif;transform:scaleX(0.8038);color:#000;">5</div><div class="t" style="left:1546.62px;top:965.73px;font:normal 21.5px/21.5px 'Liberation Sans',sans-serif;transform:scaleX(0.9600);color:#000;">189955</div><div class="t" style="left:111.04px;top:996.65px;font:normal 19.5px/19.5px 'Liberation Sans',sans-serif;transform:scaleX(0.9496);color:#000;">22-25</div><div class="t" style="left:258.78px;top:995.96px;font:normal 21.5px/21.5px 'Liberation Sans',sans-serif;transform:scaleX(0.9583);color:#000;">863694</div><div class="t" style="left:378.18px;top:995.96px;font:normal 21.5px/21.5px 'Liberation Sans',sans-serif;transform:scaleX(0.9577);color:#000;">4370730</div><div class="t" style="left:516.04px;top:995.96px;font:normal 21.5px/21.5px 'Liberation Sans',sans-serif;transform:scaleX(0.9531);color:#000;">157</div><div class="t" style="left:599.16px;top:995.96px;font:normal 21.5px/21.5px 'Liberation Sans',sans-serif;transform:scaleX(0.9611);color:#000;">5234581</div><div class="t" style="left:734.70px;top:995.96px;font:normal 21.5px/21.5px 'Liberation Sans',sans-serif;transform:scaleX(0.9422);color:#000;">61041</div><div class="t" style="left:859.67px;top:995.96px;font:normal 21.5px/21.5px 'Liberation Sans',sans-serif;transform:scaleX(0.9545);color:#000;">384190</div><div class="t" style="left:1001.38px;top:995.96px;font:normal 21.5px/21.5px 'Liberation Sans',sans-serif;transform:scaleX(0.9143);color:#000;">32</div><div class="t" style="left:1087.36px;top:995.96px;font:normal 21.5px/21.5px 'Liberation Sans',sans-serif;transform:scaleX(0.9635);color:#000;">445263</div><div class="t" style="left:1212.27px;top:995.96px;font:normal 21.5px/21.5px 'Liberation Sans',sans-serif;transform:scaleX(0.9471);color:#000;">51510</div><div class="t" style="left:1328.94px;top:995.96px;font:normal 21.5px/21.5px 'Liberation Sans',sans-serif;transform:scaleX(0.9491);color:#000;">286741</div><div class="t" style="left:1465.34px;top:995.96px;font:normal 21.5px/21.5px 'Liberation Sans',sans-serif;transform:scaleX(0.9018);color:#000;">19</div><div class="t" style="left:1546.67px;top:995.96px;font:normal 21.5px/21.5px 'Liberation Sans',sans-serif;transform:scaleX(0.9545);color:#000;">338270</div><div class="t" style="left:111.03px;top:1026.89px;font:normal 19.5px/19.5px 'Liberation Sans',sans-serif;transform:scaleX(0.9424);color:#000;">26-28</div><div class="t" style="left:258.55px;top:1026.20px;font:normal 21.5px/21.5px 'Liberation Sans',sans-serif;transform:scaleX(0.9529);color:#000;">631596</div><div class="t" style="left:377.86px;top:1026.20px;font:normal 21.5px/21.5px 'Liberation Sans',sans-serif;transform:scaleX(0.9639);color:#000;">3674559</div><div class="t" style="left:515.19px;top:1026.20px;font:normal 21.5px/21.5px 'Liberation Sans',sans-serif;transform:scaleX(0.9333);color:#000;">144</div><div class="t" style="left:598.74px;top:1026.20px;font:normal 21.5px/21.5px 'Liberation Sans',sans-serif;transform:scaleX(0.9632);color:#000;">4306299</div><div class="t" style="left:734.03px;top:1026.20px;font:normal 21.5px/21.5px 'Liberation Sans',sans-serif;transform:scaleX(0.9491);color:#000;">33020</div><div class="t" style="left:860.39px;top:1026.20px;font:normal 21.5px/21.5px 'Liberation Sans',sans-serif;transform:scaleX(0.9478);color:#000;">226407</div><div class="t" style="left:1000.75px;top:1026.20px;font:normal 21.5px/21.5px 'Liberation Sans',sans-serif;transform:scaleX(0.9247);color:#000;">10</div><div class="t" style="left:1088.21px;top:1026.20px;font:normal 21.5px/21.5px 'Liberation Sans',sans-serif;transform:scaleX(0.9478);color:#000;">259437</div><div class="t" style="left:1211.96px;top:1026.20px;font:normal 21.5px/21.5px 'Liberation Sans',sans-serif;transform:scaleX(0.9412);color:#000;">26927</div><div class="t" style="left:1328.54px;top:1026.20px;font:normal 21.5px/21.5px 'Liberation Sans',sans-serif;transform:scaleX(0.9811);color:#000;">164112</div><div class="t" style="left:1472.32px;top:1026.20px;font:normal 21.5px/21.5px 'Liberation Sans',sans-serif;transform:scaleX(0.8502);color:#000;">7</div><div class="t" style="left:1546.70px;top:1026.20px;font:normal 21.5px/21.5px 'Liberation Sans',sans-serif;transform:scaleX(0.9583);color:#000;">191046</div><div class="t" style="left:111.04px;top:1057.12px;font:normal 19.5px/19.5px 'Liberation Sans',sans-serif;transform:scaleX(0.9496);color:#000;">29-35</div><div class="t" style="left:252.01px;top:1056.43px;font:normal 21.5px/21.5px 'Liberation Sans',sans-serif;transform:scaleX(0.9565);color:#000;">1227082</div><div class="t" style="left:378.55px;top:1056.43px;font:normal 21.5px/21.5px 'Liberation Sans',sans-serif;transform:scaleX(0.9568);color:#000;">5999880</div><div class="t" style="left:516.24px;top:1056.43px;font:normal 21.5px/21.5px 'Liberation Sans',sans-serif;transform:scaleX(0.9263);color:#000;">256</div><div class="t" style="left:598.18px;top:1056.43px;font:normal 21.5px/21.5px 'Liberation Sans',sans-serif;transform:scaleX(0.9687);color:#000;">7227218</div><div class="t" style="left:734.27px;top:1056.43px;font:normal 21.5px/21.5px 'Liberation Sans',sans-serif;transform:scaleX(0.9588);color:#000;">50666</div><div class="t" style="left:860.33px;top:1056.43px;font:normal 21.5px/21.5px 'Liberation Sans',sans-serif;transform:scaleX(0.9491);color:#000;">274401</div><div class="t" style="left:1000.93px;top:1056.43px;font:normal 21.5px/21.5px 'Liberation Sans',sans-serif;transform:scaleX(0.9165);color:#000;">15</div><div class="t" style="left:1087.95px;top:1056.43px;font:normal 21.5px/21.5px 'Liberation Sans',sans-serif;transform:scaleX(0.9585);color:#000;">325082</div><div class="t" style="left:1212.38px;top:1056.43px;font:normal 21.5px/21.5px 'Liberation Sans',sans-serif;transform:scaleX(0.9532);color:#000;">40597</div><div class="t" style="left:1328.10px;top:1056.43px;font:normal 21.5px/21.5px 'Liberation Sans',sans-serif;transform:scaleX(0.9627);color:#000;">196710</div><div class="t" style="left:1466.10px;top:1056.43px;font:normal 21.5px/21.5px 'Liberation Sans',sans-serif;transform:scaleX(0.9165);color:#000;">15</div><div class="t" style="left:1547.39px;top:1056.43px;font:normal 21.5px/21.5px 'Liberation Sans',sans-serif;transform:scaleX(0.9478);color:#000;">237322</div><div class="t" style="left:110.60px;top:1087.36px;font:normal 19.5px/19.5px 'Liberation Sans',sans-serif;transform:scaleX(1.0011);color:#000;">More than 35</div><div class="t" style="left:253.44px;top:1086.67px;font:normal 21.5px/21.5px 'Liberation Sans',sans-serif;transform:scaleX(0.9523);color:#000;">2100947</div><div class="t" style="left:377.97px;top:1086.67px;font:normal 21.5px/21.5px 'Liberation Sans',sans-serif;transform:scaleX(0.9597);color:#000;">8296719</div><div class="t" style="left:516.04px;top:1086.67px;font:normal 21.5px/21.5px 'Liberation Sans',sans-serif;transform:scaleX(0.9443);color:#000;">404</div><div class="t" style="left:592.15px;top:1086.67px;font:normal 21.5px/21.5px 'Liberation Sans',sans-serif;transform:scaleX(0.9672);color:#000;">10398070</div><div class="t" style="left:734.56px;top:1086.67px;font:normal 21.5px/21.5px 'Liberation Sans',sans-serif;transform:scaleX(0.9520);color:#000;">54842</div><div class="t" style="left:860.13px;top:1086.67px;font:normal 21.5px/21.5px 'Liberation Sans',sans-serif;transform:scaleX(0.9534);color:#000;">256326</div><div class="t" style="left:1001.66px;top:1086.67px;font:normal 21.5px/21.5px 'Liberation Sans',sans-serif;transform:scaleX(0.8820);color:#000;">22</div><div class="t" style="left:1087.47px;top:1086.67px;font:normal 21.5px/21.5px 'Liberation Sans',sans-serif;transform:scaleX(0.9972);color:#000;">311190</div><div class="t" style="left:1212.38px;top:1086.67px;font:normal 21.5px/21.5px 'Liberation Sans',sans-serif;transform:scaleX(0.9532);color:#000;">43107</div><div class="t" style="left:1328.57px;top:1086.67px;font:normal 21.5px/21.5px 'Liberation Sans',sans-serif;transform:scaleX(0.9526);color:#000;">183437</div><div class="t" style="left:1465.41px;top:1086.67px;font:normal 21.5px/21.5px 'Liberation Sans',sans-serif;transform:scaleX(0.9384);color:#000;">17</div><div class="t" style="left:1547.33px;top:1086.67px;font:normal 21.5px/21.5px 'Liberation Sans',sans-serif;transform:scaleX(0.9491);color:#000;">226561</div><div class="t" style="left:154.32px;top:480.58px;font:bold 22.0px/22.0px 'Liberation Sans',sans-serif;transform:scaleX(0.8549);color:#000;">Age</div><div class="t" style="left:291.86px;top:480.58px;font:bold 22.0px/22.0px 'Liberation Sans',sans-serif;transform:scaleX(0.6309);color:#000;">F</div><div class="t" style="left:411.31px;top:480.58px;font:bold 22.0px/22.0px 'Liberation Sans',sans-serif;transform:scaleX(1.0894);color:#000;">M</div><div class="t" style="left:501.97px;top:480.58px;font:bold 22.0px/22.0px 'Liberation Sans',sans-serif;transform:scaleX(0.9005);color:#000;">Others</div><div class="t" style="left:614.77px;top:480.58px;font:bold 22.0px/22.0px 'Liberation Sans',sans-serif;transform:scaleX(0.9382);color:#000;">Total</div><div class="t" style="left:761.61px;top:480.58px;font:bold 22.0px/22.0px 'Liberation Sans',sans-serif;transform:scaleX(0.6309);color:#000;">F</div><div class="t" style="left:887.35px;top:480.58px;font:bold 22.0px/22.0px 'Liberation Sans',sans-serif;transform:scaleX(1.0531);color:#000;">M</div><div class="t" style="left:981.98px;top:480.58px;font:bold 22.0px/22.0px 'Liberation Sans',sans-serif;transform:scaleX(0.8892);color:#000;">Others</div><div class="t" style="left:1097.97px;top:480.58px;font:bold 22.0px/22.0px 'Liberation Sans',sans-serif;transform:scaleX(0.9262);color:#000;">Total</div><div class="t" style="left:1238.75px;top:480.58px;font:bold 22.0px/22.0px 'Liberation Sans',sans-serif;transform:scaleX(0.7066);color:#000;">F</div><div class="t" style="left:1355.75px;top:480.58px;font:bold 22.0px/22.0px 'Liberation Sans',sans-serif;transform:scaleX(1.0777);color:#000;">M</div><div class="t" style="left:1445.35px;top:480.58px;font:bold 22.0px/22.0px 'Liberation Sans',sans-serif;transform:scaleX(0.9009);color:#000;">Others</div><div class="t" style="left:1559.54px;top:480.58px;font:bold 22.0px/22.0px 'Liberation Sans',sans-serif;transform:scaleX(0.9341);color:#000;">total</div><div class="t" style="left:251.98px;top:382.72px;font:bold 21.0px/21.0px 'Liberation Sans',sans-serif;transform:scaleX(0.9491);color:#000;">Out of existing stock, the number</div><div class="t" style="left:397.98px;top:413.42px;font:bold 21.0px/21.0px 'Liberation Sans',sans-serif;transform:scaleX(0.8706);color:#000;">of</div><div class="t" style="left:248.01px;top:444.02px;font:bold 21.0px/21.0px 'Liberation Sans',sans-serif;transform:scaleX(0.9609);color:#000;">employees who paid contribution</div><div class="t" style="left:726.44px;top:383.22px;font:bold 21.0px/21.0px 'Liberation Sans',sans-serif;transform:scaleX(0.9594);color:#000;">Number of employees registered</div><div class="t" style="left:1210.18px;top:382.22px;font:bold 21.0px/21.0px 'Liberation Sans',sans-serif;transform:scaleX(0.9528);color:#000;">Contribution  Out of  registerd</div><div class="t" style="left:1303.01px;top:413.22px;font:bold 21.0px/21.0px 'Liberation Sans',sans-serif;transform:scaleX(0.9490);color:#000;">employees</div><div class="t" style="left:193.53px;top:347.08px;font:bold 22px/22px 'Liberation Sans',sans-serif;transform:scaleX(0.8664);color:#000;">PROVISIONAL ESTIMATE OF PAYROLL IN AGE BUCKETS AS PER ESIC RECORDS (IN NUMBERS) WITH GENDER WISE BREAKUP- AS ON 20.03.2019</div><div style="left:193.00px;top:367.00px;width:1357.00px;height:1.60px;background:#111"></div><div class="t" style="left:659.73px;top:217.87px;font:bold 27.5px/27.5px 'Liberation Serif',serif;transform:scaleX(1.0007);color:#0b0b14;-webkit-text-stroke:0.35px #0b0b14;">EMPLOYEES’ STATE INSURANCE CORPORATION</div><div class="t" style="left:691.21px;top:253.21px;font:bold 21px/21px 'Liberation Serif',serif;transform:scaleX(1.0926);color:#0b0b14;-webkit-text-stroke:0.35px #0b0b14;">PANCHDEEP BHAWAN, CIG ROAD, NEW DELHI-110002</div><div class="t" style="left:634.62px;top:281.40px;font:bold 21.5px/21.5px 'Liberation Serif',serif;transform:scaleX(1.0239);color:#0b0b14;-webkit-text-stroke:0.35px #0b0b14;">Ph.</div><div class="t" style="left:672.90px;top:281.40px;font:bold 21.5px/21.5px 'Liberation Serif',serif;transform:scaleX(1.3370);color:#0b0b14;-webkit-text-stroke:0.35px #0b0b14;">011-23701356/57</div><div class="t" style="left:881.16px;top:281.40px;font:bold 21.5px/21.5px 'Liberation Serif',serif;transform:scaleX(1.1454);color:#0b0b14;-webkit-text-stroke:0.35px #0b0b14;">email: ac_icthq@esic.in, ac-icthq@esic.nic.in</div>
</body></html>
